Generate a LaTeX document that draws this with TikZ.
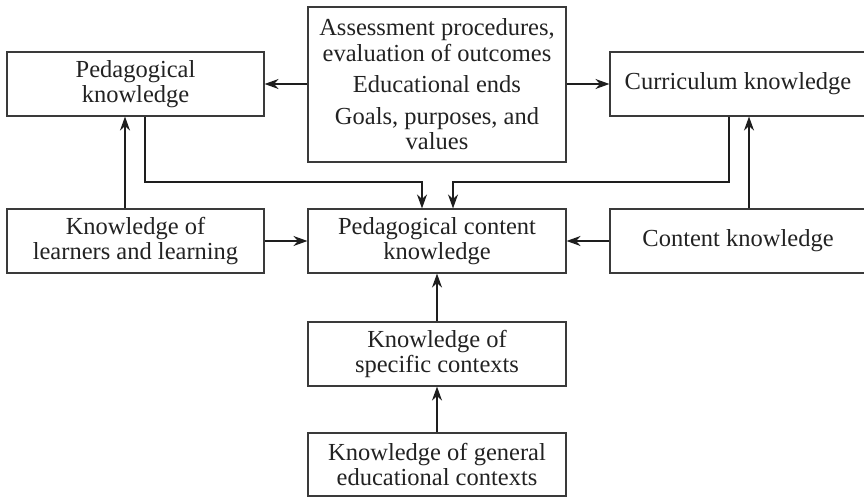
\documentclass[tikz,border=0pt]{standalone}
\usepackage{fontspec}
\setmainfont{Liberation Serif}
\usetikzlibrary{arrows.meta,calc}
\definecolor{boxline}{HTML}{3A3A3A}
\definecolor{arrline}{HTML}{1E1E1E}
\definecolor{txt}{HTML}{222222}
\tikzset{
  kbox/.style={draw=boxline, line width=1.1pt, inner sep=0pt, align=center,
    text=txt, font=\fontsize{24.5}{25.5}\selectfont, minimum width=258pt, minimum height=64pt},
  arr/.style={draw=arrline, line width=1.9pt,
    -{Stealth[length=14pt,width=10pt,inset=4.5pt]}},
}
\begin{document}
\begin{tikzpicture}[x=1pt,y=-1pt]
\useasboundingbox (0,0) rectangle (864,497);
\node[kbox, minimum height=155pt] (top) at (437,84.5)
  {Assessment procedures,\\ evaluation of outcomes\\[6pt] Educational ends\\[6pt] Goals, purposes, and\\ values};
\node[kbox, minimum width=257pt] (ped) at (135.5,84) {Pedagogical\\ knowledge};
\node[kbox, minimum width=256pt] (cur) at (738,84) {Curriculum knowledge};
\node[kbox, minimum width=257pt] (learn) at (135.5,241) {Knowledge of\\ learners and learning};
\node[kbox] (pck) at (437,241) {Pedagogical content\\ knowledge};
\node[kbox, minimum width=256pt] (cont) at (738,241) {Content knowledge};
\node[kbox] (spec) at (437,354) {Knowledge of\\ specific contexts};
\node[kbox, minimum height=63pt] (gen) at (437,464.5) {Knowledge of general\\ educational contexts};

\draw[arr] (top.west |- ped.east) -- (ped.east);
\draw[arr] (top.east |- cur.west) -- (cur.west);
\draw[arr] ([xshift=-10.5pt]learn.north) -- ([xshift=-10.5pt]ped.south);
\draw[arr] ([xshift=9.5pt]ped.south) |- ([xshift=-15pt,yshift=26pt]pck.north) -- ([xshift=-15pt]pck.north);
\draw[arr] ([xshift=-9pt]cur.south) |- ([xshift=16pt,yshift=26pt]pck.north) -- ([xshift=16pt]pck.north);
\draw[arr] ([xshift=11pt]cont.north) -- ([xshift=11pt]cur.south);
\draw[arr] (learn.east) -- (pck.west);
\draw[arr] (cont.west) -- (pck.east);
\draw[arr] (spec.north) -- (pck.south);
\draw[arr] (gen.north) -- (spec.south);
\end{tikzpicture}
\end{document}
